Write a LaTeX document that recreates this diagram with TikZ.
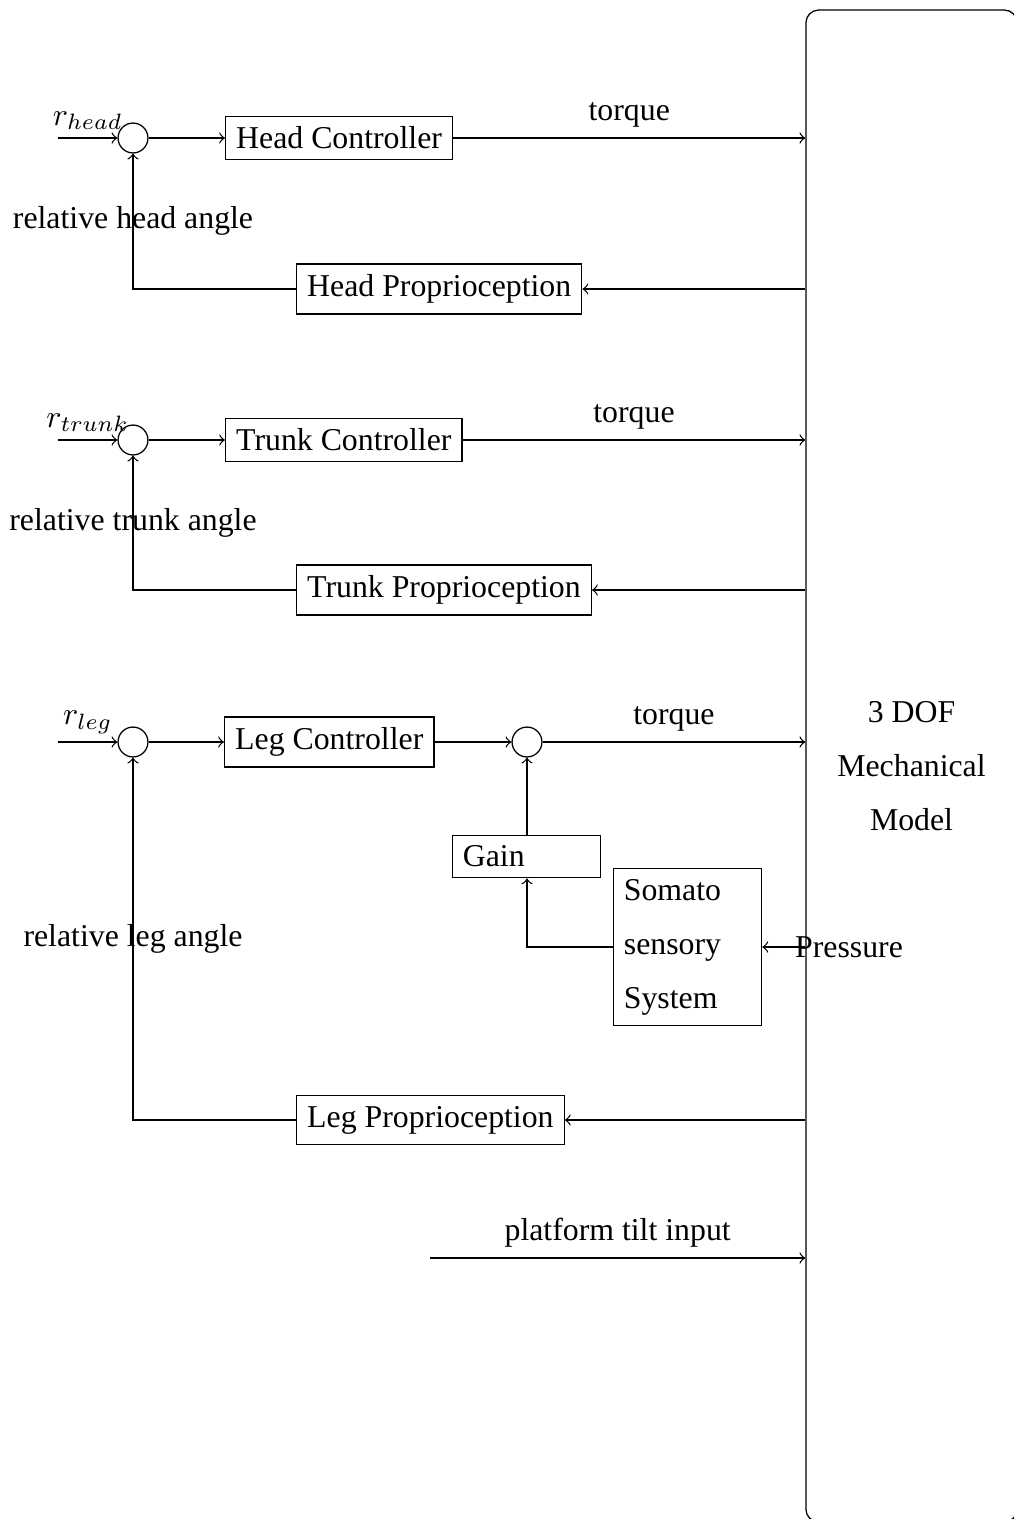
\documentclass[tikz,border=0pt]{standalone}
\usepackage{fontspec}
\setmainfont{Liberation Serif}
\begin{document}
\begin{tikzpicture}[x=0.3145pt,y=-0.3145pt,>=to,line width=0.4pt,
  blk/.style={draw, inner sep=3.333pt},
  sumpt/.style={draw, circle, minimum size=9.4pt, inner sep=0pt},
  wideblk/.style={draw, text width=40pt, align=left, inner sep=3.333pt},
  lbl/.style={inner sep=0pt},
  rlbl/.style={above, yshift=-1pt}]
\useasboundingbox (0,0) rectangle (1014,1519);

% mechanical model block (extends past the page on the right and bottom)
\node[draw, rounded corners=4pt, minimum width=66.4pt, minimum height=475.5pt,
      align=center, inner sep=0pt] (mech) at (911.5,766)
      {3 DOF\\[5pt]Mechanical\\[5pt]Model};

% ---------------- head loop ----------------
\coordinate (rh) at (58,138);
\node[sumpt] (sh) at (133,138) {};
\node[blk, anchor=west] (hc) at (225,138) {Head Controller};
\node[blk, anchor=west] (hp) at (296,289) {Head Proprioception};
\draw[->] (rh) -- node[rlbl] {$r_{head}$} (sh);
\draw[->] (sh) -- (hc);
\draw[->] (hc) -- node[above] {torque} (hc -| mech.west);
\draw[->] (hp -| mech.west) -- (hp);
\draw[->] (hp.west) -| node[pos=0.75, lbl] {relative head angle} (sh.south);

% ---------------- trunk loop ----------------
\coordinate (rt) at (58,440);
\node[sumpt] (st) at (133,440) {};
\node[blk, anchor=west] (tc) at (225,440) {Trunk Controller};
\node[blk, anchor=west] (tp) at (296,590) {Trunk Proprioception};
\draw[->] (rt) -- node[rlbl] {$r_{trunk}$} (st);
\draw[->] (st) -- (tc);
\draw[->] (tc) -- node[above] {torque} (tc -| mech.west);
\draw[->] (tp -| mech.west) -- (tp);
\draw[->] (tp.west) -| node[pos=0.75, lbl] {relative trunk angle} (st.south);

% ---------------- leg loop ----------------
\coordinate (rl) at (58,742);
\node[sumpt] (sl) at (133,742) {};
\node[blk, anchor=west] (lc) at (224,742) {Leg Controller};
\node[sumpt] (sg) at (527,742) {};
\node[wideblk] (gain) at (526.5,856.5) {Gain};
\node[wideblk] (soma) at (687.5,947) {Somato\\[5pt]sensory\\[5pt]System};
\node[blk, anchor=west] (lp) at (296,1120) {Leg Proprioception};
\draw[->] (rl) -- node[rlbl] {$r_{leg}$} (sl);
\draw[->] (sl) -- (lc);
\draw[->] (lc) -- (sg);
\draw[->] (sg) -- node[above] {torque} (sg -| mech.west);
\draw[->] (gain.north -| sg) -- (sg.south);
\draw[->] (soma.west) -| (gain.south -| sg);
\coordinate (pin) at (soma.east -| mech.west);
\draw[->] (pin) -- (soma.east);
\node[lbl] (press) at (849,947) {Pressure};
\draw[->] (lp -| mech.west) -- (lp);
\draw[->] (lp.west) -| node[pos=0.75, lbl] {relative leg angle} (sl.south);

% ---------------- platform input ----------------
\coordinate (tilt) at (430,1258);
\draw[->] (tilt) -- node[above] {platform tilt input} (tilt -| mech.west);
\end{tikzpicture}
\end{document}
